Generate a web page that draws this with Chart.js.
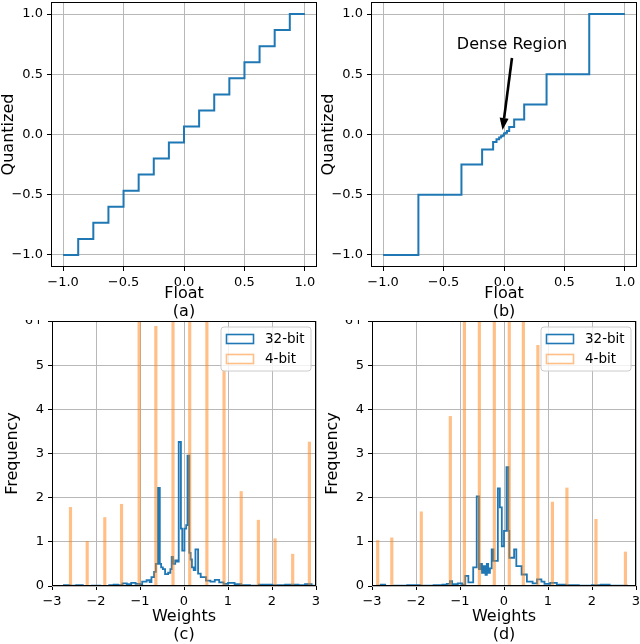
<!DOCTYPE html>
<html><head><meta charset="utf-8">
<script src="https://cdn.jsdelivr.net/npm/chart.js@4.4.0/dist/chart.umd.min.js"></script>
<style>
html,body{margin:0;padding:0;background:#fff;}
body{width:640px;height:644px;position:relative;overflow:hidden;}
.p{position:absolute;}
</style></head><body>
<div class="p" style="left:0;top:0;width:320px;height:321px"><canvas id="ca"></canvas></div>
<div class="p" style="left:320px;top:0;width:320px;height:321px"><canvas id="cb"></canvas></div>
<div class="p" style="left:0;top:320px;width:320px;height:324px"><canvas id="cc"></canvas></div>
<div class="p" style="left:320px;top:320px;width:320px;height:324px"><canvas id="cd"></canvas></div>
<script>
// ---------- data ----------
// (a) uniform quantizer: step start x and level
const aX = [-1.0, -0.875, -0.75, -0.625, -0.5, -0.375, -0.25, -0.125, 0.0, 0.125, 0.25, 0.375, 0.5, 0.625, 0.75, 0.875, 1.0];
const aY = [-1.0, -0.867, -0.733, -0.6, -0.467, -0.333, -0.2, -0.067, 0.067, 0.2, 0.333, 0.467, 0.6, 0.733, 0.867, 1.0, 1.0];
// (b) non-uniform quantizer
const bX = [-1.0, -0.708, -0.352, -0.181, -0.09, -0.062, -0.04, -0.025, -0.012, 0.0, 0.012, 0.025, 0.043, 0.084, 0.167, 0.352, 0.705, 1.0];
const bY = [-1.0, -0.5, -0.25, -0.125, -0.0625, -0.04, -0.025, -0.015, -0.008, 0.008, 0.015, 0.03, 0.0625, 0.125, 0.25, 0.5, 1.0, 1.0];
const abTicks = [-1, -0.5, 0, 0.5, 1];
const abTickLabels = ['\u22121.0', '\u22120.5', '0.0', '0.5', '1.0'];
const annText = 'Dense Region';
const annTextXY = [0.066, 0.743];
const annTail = [0.066, 0.635];
const annTip = [-0.012, 0.037];

// (c) 32-bit histogram (bin start, frequency)
const cX = [-2.75,-2.6,-2.45,-2.3,-2.1,-1.9,-1.7,-1.6,-1.5,-1.4,-1.3,-1.2,-1.1,-1.0,-0.95,-0.85,-0.78,-0.74,-0.68,-0.64,-0.59,-0.55,-0.52,-0.48,-0.43,-0.36,-0.31,-0.28,-0.25,-0.2,-0.16,-0.12,-0.07,-0.04,0.01,0.05,0.08,0.12,0.15,0.18,0.22,0.26,0.32,0.38,0.5,0.6,0.7,0.8,0.9,1.0,1.15,1.3,1.5,1.7,2.0,2.3,2.6,2.75,2.9,2.97];
const cY = [0.02,0.01,0.02,0.0,0.01,0.0,0.02,0.03,0.02,0.06,0.04,0.07,0.05,0.03,0.1,0.13,0.09,0.2,0.32,0.5,2.22,0.5,0.42,0.38,0.27,0.3,0.38,0.66,0.5,0.58,0.55,3.26,1.3,0.8,1.3,1.38,2.95,0.75,0.6,0.42,0.36,0.83,0.28,0.2,0.12,0.1,0.14,0.08,0.05,0.07,0.04,0.02,0.01,0.03,0.02,0.03,0.02,0.04,0.01,0.01];
// (c) 4-bit histogram
const cOx = [-2.58, -2.2, -1.8, -1.42, -1.02, -0.64, -0.25, 0.13, 0.52, 0.91, 1.3, 1.69, 2.07, 2.47, 2.85];
const cOy = [1.78, 1.01, 1.55, 1.85, 7, 5.88, 7, 7, 7, 4.89, 2.14, 1.49, 1.07, 0.72, 3.26];

// (d) 32-bit histogram
const dX = [-2.9,-2.8,-2.7,-2.5,-2.2,-1.9,-1.6,-1.4,-1.3,-1.23,-1.18,-1.05,-0.95,-0.88,-0.81,-0.7,-0.62,-0.57,-0.54,-0.5,-0.46,-0.42,-0.39,-0.36,-0.32,-0.28,-0.24,-0.14,-0.095,-0.05,0.0,0.057,0.1,0.12,0.23,0.28,0.4,0.52,0.65,0.75,0.85,0.92,1.05,1.2,1.4,1.7,2.0,2.2,2.4,2.8,2.9];
const dY = [0.01,0.03,0.0,0.01,0.02,0.01,0.02,0.03,0.05,0.11,0.04,0.06,0.03,0.23,0.08,0.42,2.03,0.38,0.5,0.3,0.45,0.25,0.5,0.3,0.4,0.83,0.57,2.21,1.78,0.9,1.25,2.69,1.25,0.64,0.83,0.45,0.26,0.1,0.06,0.15,0.1,0.05,0.07,0.03,0.02,0.01,0.02,0.03,0.01,0.0,0.0];
// (d) 4-bit histogram
const dOx = [-2.87, -2.55, -1.88, -1.22, -0.9, -0.56, -0.22, 0.12, 0.44, 0.77, 1.1, 1.43, 2.09, 2.76];
const dOy = [1.03, 1.09, 1.68, 3.84, 7, 7, 7, 7, 7, 5.45, 1.9, 2.22, 1.51, 0.77];

const cdXTicks = [-3, -2, -1, 0, 1, 2, 3];
const cdXTickLabels = ['\u22123', '\u22122', '\u22121', '0', '1', '2', '3'];
const cdYTicks = [0, 1, 2, 3, 4, 5, 6];
const cdYTickLabels = ['0', '1', '2', '3', '4', '5', '6+'];
const seriesLabels = ['32-bit', '4-bit'];

// ---------- styling ----------
Chart.defaults.font.family = '"DejaVu Sans", sans-serif';
Chart.defaults.color = '#000';
const BLUE = '#1f77b4';
const ORANGE_A = 'rgba(255,127,14,0.5)';

const pts = (xs, ys) => xs.map((x, i) => ({x: x, y: ys[i]}));

function axis(ticksV, ticksL, min, max, title, fitFn, titlePad) {
  return {
    type: 'linear', min: min, max: max, offset: false,
    afterBuildTicks: s => { s.ticks = ticksV.map(v => ({value: v})); },
    afterFit: fitFn,
    ticks: { callback: (v, i) => ticksL[i], color: '#000', font: {size: 13}, padding: 4, maxRotation: 0, autoSkip: false },
    grid: { color: '#b8b8b8', lineWidth: 1, tickColor: '#000', tickLength: 4, tickWidth: 1, drawTicks: true, offset: false },
    border: { display: false },
    title: { display: true, text: title, color: '#000', font: {size: 16, lineHeight: 1.125}, padding: titlePad }
  };
}
const fitX = h => s => { s.height = h; s.paddingLeft = 0; s.paddingRight = 0; };
const fitY = w => s => { s.width = w; s.paddingTop = 0; s.paddingBottom = 0; };

const framePlugin = {
  id: 'frame',
  afterDatasetsDraw(chart) {
    const a = chart.chartArea, ctx = chart.ctx;
    ctx.save();
    ctx.strokeStyle = '#000'; ctx.lineWidth = 1;
    ctx.strokeRect(a.left + 0.5, a.top + 0.5, a.right - a.left - 1, a.bottom - a.top - 1);
    ctx.restore();
  }
};

const arrowPlugin = {
  id: 'arrow',
  afterDatasetsDraw(chart) {
    const x = chart.scales.x, y = chart.scales.y, ctx = chart.ctx;
    const tx = x.getPixelForValue(annTip[0]), ty = y.getPixelForValue(annTip[1]);
    const sx = x.getPixelForValue(annTail[0]), sy = y.getPixelForValue(annTail[1]);
    const ang = Math.atan2(ty - sy, tx - sx), hl = 12, hw = 4.5;
    const bx = tx - hl * Math.cos(ang), by = ty - hl * Math.sin(ang);
    ctx.save();
    ctx.strokeStyle = '#000'; ctx.fillStyle = '#000'; ctx.lineWidth = 2.6;
    ctx.beginPath(); ctx.moveTo(sx, sy); ctx.lineTo(bx, by); ctx.stroke();
    ctx.beginPath(); ctx.moveTo(tx, ty);
    ctx.lineTo(bx + hw * Math.sin(ang), by - hw * Math.cos(ang));
    ctx.lineTo(bx - hw * Math.sin(ang), by + hw * Math.cos(ang));
    ctx.closePath(); ctx.fill();
    ctx.font = '16px "DejaVu Sans"'; ctx.textAlign = 'center'; ctx.textBaseline = 'middle';
    ctx.fillText(annText, x.getPixelForValue(annTextXY[0]), y.getPixelForValue(annTextXY[1]));
    ctx.restore();
  }
};

const legendPlugin = {
  id: 'hleg',
  afterDraw(chart) {
    const a = chart.chartArea, ctx = chart.ctx;
    const w = 90, h = 44, L = a.right - 5 - w, T = a.top + 6, r = 3;
    ctx.save();
    ctx.beginPath();
    ctx.moveTo(L + r, T); ctx.lineTo(L + w - r, T); ctx.arcTo(L + w, T, L + w, T + r, r);
    ctx.lineTo(L + w, T + h - r); ctx.arcTo(L + w, T + h, L + w - r, T + h, r);
    ctx.lineTo(L + r, T + h); ctx.arcTo(L, T + h, L, T + h - r, r);
    ctx.lineTo(L, T + r); ctx.arcTo(L, T, L + r, T, r); ctx.closePath();
    ctx.fillStyle = 'rgba(255,255,255,0.8)'; ctx.fill();
    ctx.strokeStyle = '#cccccc'; ctx.lineWidth = 1; ctx.stroke();
    const cols = [BLUE, 'rgba(255,127,14,0.5)'];
    seriesLabels.forEach((lab, i) => {
      const py = T + 7 + i * 20;
      ctx.strokeStyle = cols[i]; ctx.lineWidth = 1.6;
      ctx.strokeRect(L + 5.5, py + 0.5, 27, 9);
      ctx.fillStyle = '#000'; ctx.font = '13.5px "DejaVu Sans"';
      ctx.textAlign = 'left'; ctx.textBaseline = 'middle';
      ctx.fillText(lab, L + 44, py + 5);
    });
    ctx.restore();
  }
};

const baseOpts = (pad) => ({
  responsive: true, maintainAspectRatio: false, animation: false,
  layout: { padding: pad },
  plugins: { legend: { display: false }, tooltip: { enabled: false } }
});

function quantChart(id, xs, ys, extra) {
  const o = baseOpts({top: 2, right: 3, left: 0, bottom: 0});
  o.scales = {
    x: axis(abTicks, abTickLabels, -1.1, 1.1, ['Float', id === 'ca' ? '(a)' : '(b)'], fitX(54), {top: 0, bottom: 0}),
    y: axis(abTicks, abTickLabels, -1.1, 1.1, 'Quantized', fitY(51), {top: 0, bottom: 0})
  };
  return new Chart(document.getElementById(id), {
    type: 'line',
    data: { datasets: [{ data: pts(xs, ys), stepped: 'before', borderColor: BLUE, borderWidth: 2, pointRadius: 0, fill: false }] },
    options: o,
    plugins: extra
  });
}

function histChart(id, hx, hy, ox, oy, sub) {
  const o = baseOpts({top: 1, right: 4, left: 0, bottom: 0});
  o.scales = {
    x: axis(cdXTicks, cdXTickLabels, -3, 3, ['Weights', sub], fitX(58), {top: 0, bottom: 0}),
    y: axis(cdYTicks, cdYTickLabels, 0, 6, 'Frequency', fitY(52), {top: 4, bottom: 0})
  };
  return new Chart(document.getElementById(id), {
    type: 'bar',
    data: { datasets: [
      { type: 'bar', label: seriesLabels[1], data: pts(ox, oy), backgroundColor: ORANGE_A, borderWidth: 0, barThickness: 2.5, order: 0 },
      { type: 'line', label: seriesLabels[0], data: pts(hx, hy), stepped: 'before', borderColor: BLUE, borderWidth: 1.8, pointRadius: 0, fill: false, order: 1 }
    ] },
    options: o,
    plugins: [framePlugin, legendPlugin]
  });
}

quantChart('ca', aX, aY, [framePlugin]);
quantChart('cb', bX, bY, [framePlugin, arrowPlugin]);
histChart('cc', cX, cY, cOx, cOy, '(c)');
histChart('cd', dX, dY, dOx, dOy, '(d)');
</script>
</body></html>
